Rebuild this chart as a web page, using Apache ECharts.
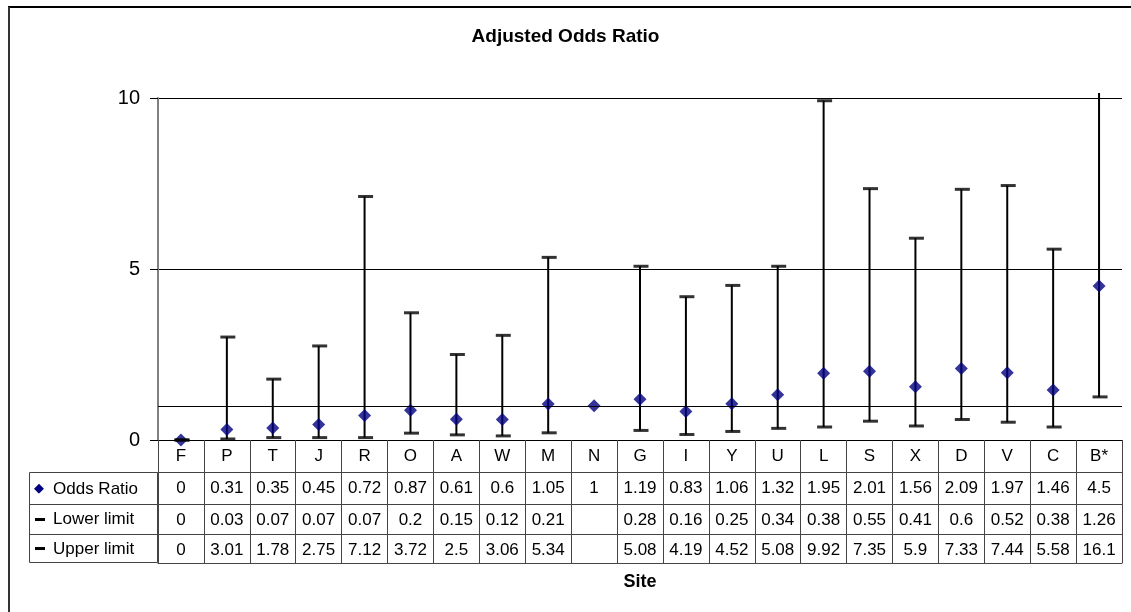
<!DOCTYPE html>
<html>
<head>
<meta charset="utf-8">
<script src="https://cdn.jsdelivr.net/npm/echarts/dist/echarts.min.js"></script>
<style>
html, body { margin: 0; padding: 0; background: #fff; }
#main { width: 1131px; height: 612px; }
</style>
</head>
<body>
<div id="main"></div>
<script>
// sites along the x axis, with the three table rows
var sites = ['F', 'P', 'T', 'J', 'R', 'O', 'A', 'W', 'M', 'N', 'G', 'I', 'Y', 'U', 'L', 'S', 'X', 'D', 'V', 'C', 'B*'];
var oddsRatio = [0, 0.31, 0.35, 0.45, 0.72, 0.87, 0.61, 0.6, 1.05, 1, 1.19, 0.83, 1.06, 1.32, 1.95, 2.01, 1.56, 2.09, 1.97, 1.46, 4.5];
var lowerLimit = [0, 0.03, 0.07, 0.07, 0.07, 0.2, 0.15, 0.12, 0.21, null, 0.28, 0.16, 0.25, 0.34, 0.38, 0.55, 0.41, 0.6, 0.52, 0.38, 1.26];
var upperLimit = [0, 3.01, 1.78, 2.75, 7.12, 3.72, 2.5, 3.06, 5.34, null, 5.08, 4.19, 4.52, 5.08, 9.92, 7.35, 5.9, 7.33, 7.44, 5.58, 16.1];
var refLine = 1;
var rowNames = ['Odds Ratio', 'Lower limit', 'Upper limit'];

var font = 'Arial, "Liberation Sans", sans-serif';
var lineCol = '#444';

var dom = document.getElementById('main');
var myChart = echarts.init(dom);

function points(arr) {
    var out = [];
    for (var i = 0; i < arr.length; i++) {
        if (arr[i] != null) out.push([i, arr[i]]);
    }
    return out;
}

var whiskers = [];
for (var i = 0; i < sites.length; i++) {
    if (lowerLimit[i] != null && upperLimit[i] != null) whiskers.push([i, lowerLimit[i], upperLimit[i]]);
}

function cellText(arr) {
    return function (v, idx) {
        return arr[idx] == null ? '' : String(arr[idx]);
    };
}

// one category axis per table row, stacked with offset
function tableAxis(offset, tickLen, formatter) {
    return {
        type: 'category',
        data: sites,
        position: 'bottom',
        offset: offset,
        boundaryGap: true,
        axisLine: { show: true, lineStyle: { color: offset === 0 ? '#000' : lineCol, width: 1 } },
        axisTick: { show: tickLen > 0, interval: 0, length: tickLen, alignWithLabel: false, lineStyle: { color: lineCol } },
        axisLabel: { show: !!formatter, interval: 0, margin: 8, fontSize: 17, color: '#000', fontFamily: font, formatter: formatter },
        splitLine: { show: false }
    };
}

var siteAxis = tableAxis(0, 32, cellText(sites));
var orAxis = tableAxis(32, 32, cellText(oddsRatio));
var loAxis = tableAxis(64, 30, cellText(lowerLimit));
var upAxis = tableAxis(94, 29, cellText(upperLimit));
var bottomAxis = tableAxis(123, 0, null);
bottomAxis.name = 'Site';
bottomAxis.nameLocation = 'middle';
bottomAxis.nameGap = 10;
bottomAxis.nameTextStyle = { fontSize: 18, fontWeight: 'bold', color: '#000', fontFamily: font, verticalAlign: 'top' };

var option = {
    animation: false,
    backgroundColor: '#fff',
    title: {
        text: 'Adjusted Odds Ratio',
        left: 'center',
        top: 27,
        padding: 0,
        textStyle: { fontSize: 19, fontWeight: 'bold', color: '#000', fontFamily: font }
    },
    grid: { left: 158, right: 9, top: 98, bottom: 172 },
    xAxis: [siteAxis, orAxis, loAxis, upAxis, bottomAxis],
    yAxis: {
        type: 'value',
        min: 0,
        max: 10,
        interval: 5,
        axisLine: { show: true, lineStyle: { color: '#808080', width: 2 } },
        axisTick: { show: true, inside: false, length: 8, lineStyle: { color: '#000', width: 1 } },
        axisLabel: { fontSize: 20, margin: 18, color: '#000', fontFamily: font },
        splitLine: { show: true, lineStyle: { color: '#000', width: 1 } }
    },
    series: [
        {
            name: 'range',
            type: 'custom',
            z: 2,
            data: whiskers,
            encode: { x: 0, y: [1, 2] },
            renderItem: function (params, api) {
                var p1 = api.coord([api.value(0), api.value(1)]);
                var p2 = api.coord([api.value(0), api.value(2)]);
                var top = params.coordSys.y - 5;
                return {
                    type: 'line',
                    shape: { x1: p1[0], y1: p1[1], x2: p2[0], y2: Math.max(p2[1], top) },
                    style: { stroke: '#000', lineWidth: 2 }
                };
            }
        },
        {
            name: 'Odds Ratio',
            type: 'scatter',
            z: 3,
            data: points(oddsRatio),
            symbol: 'diamond',
            symbolSize: 13,
            itemStyle: { color: '#000080' },
            markLine: {
                silent: true,
                symbol: 'none',
                label: { show: false },
                lineStyle: { color: '#000', width: 1, type: 'solid' },
                data: [{ yAxis: refLine }]
            }
        },
        {
            name: 'Lower limit',
            type: 'scatter',
            z: 4,
            data: points(lowerLimit),
            symbol: 'rect',
            symbolSize: [15, 3],
            symbolOffset: [1, 0],
            itemStyle: { color: '#000' }
        },
        {
            name: 'Upper limit',
            type: 'scatter',
            z: 4,
            data: points(upperLimit),
            symbol: 'rect',
            symbolSize: [15, 3],
            symbolOffset: [1, 0],
            itemStyle: { color: '#000' }
        }
    ],
    graphic: [
        // chart frame (top and left edges only show in the picture)
        { type: 'line', shape: { x1: 8, y1: 7, x2: 1131, y2: 7 }, style: { stroke: '#000', lineWidth: 2 } },
        { type: 'line', shape: { x1: 9, y1: 7, x2: 9, y2: 612 }, style: { stroke: '#333', lineWidth: 2 } },
        // y axis ticks drawn outside the plot
        { type: 'line', shape: { x1: 150, y1: 98.5, x2: 158, y2: 98.5 }, style: { stroke: '#000', lineWidth: 1 } },
        { type: 'line', shape: { x1: 150, y1: 269.5, x2: 158, y2: 269.5 }, style: { stroke: '#000', lineWidth: 1 } },
        { type: 'line', shape: { x1: 150, y1: 440.5, x2: 158, y2: 440.5 }, style: { stroke: '#000', lineWidth: 1 } },
        // legend column of the data table
        { type: 'rect', shape: { x: 29.5, y: 472.5, width: 128, height: 90 }, style: { fill: 'none', stroke: lineCol, lineWidth: 1 } },
        { type: 'line', shape: { x1: 29.5, y1: 504.5, x2: 158, y2: 504.5 }, style: { stroke: lineCol, lineWidth: 1 } },
        { type: 'line', shape: { x1: 29.5, y1: 534.5, x2: 158, y2: 534.5 }, style: { stroke: lineCol, lineWidth: 1 } },
        { type: 'text', x: 34, y: 489, style: { text: '\u25C6', fill: '#000080', fontSize: 13, fontFamily: 'DejaVu Sans', verticalAlign: 'middle' } },
        { type: 'rect', shape: { x: 35, y: 518, width: 10, height: 3 }, style: { fill: '#000' } },
        { type: 'rect', shape: { x: 35, y: 547, width: 10, height: 3 }, style: { fill: '#000' } },
        { type: 'text', x: 53, y: 489, style: { text: rowNames[0], fill: '#000', fontSize: 17, fontFamily: font, verticalAlign: 'middle' } },
        { type: 'text', x: 53, y: 519, style: { text: rowNames[1], fill: '#000', fontSize: 17, fontFamily: font, verticalAlign: 'middle' } },
        { type: 'text', x: 53, y: 549, style: { text: rowNames[2], fill: '#000', fontSize: 17, fontFamily: font, verticalAlign: 'middle' } }
    ]
};

myChart.setOption(option);
</script>
</body>
</html>
